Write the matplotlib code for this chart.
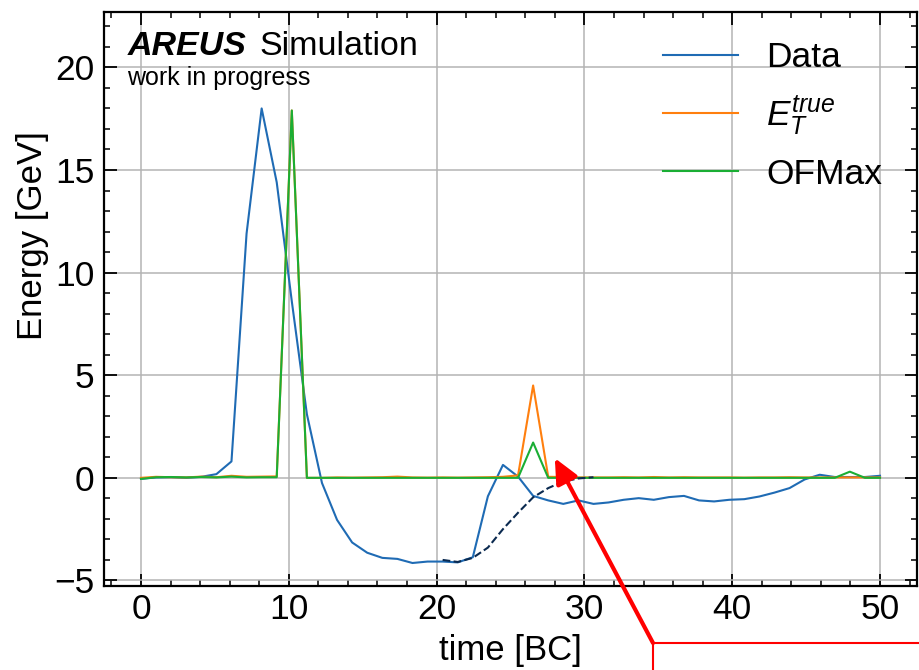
import matplotlib
matplotlib.use("Agg")
import matplotlib.pyplot as plt
from matplotlib.patches import Rectangle
import numpy as np

# time base: 50 samples spread over 0..50 BC
time = np.linspace(0, 50, 50)

data = [-0.05, 0.02, 0.03, 0.00, 0.05, 0.18, 0.80, 11.9, 18.0, 14.4,
        8.6, 3.1, -0.25, -2.05, -3.15, -3.65, -3.90, -3.95, -4.15, -4.08,
        -4.08, -4.12, -3.87, -0.90, 0.63, 0.06, -0.88, -1.10, -1.27, -1.10,
        -1.27, -1.20, -1.07, -0.99, -1.07, -0.94, -0.88, -1.10, -1.15, -1.07,
        -1.04, -0.91, -0.72, -0.50, -0.08, 0.15, 0.04, 0.04, 0.04, 0.10]

et_true = [0.00, 0.05, 0.03, 0.02, 0.06, 0.03, 0.10, 0.05, 0.06, 0.07,
           17.9, 0.00, 0.00, 0.02, 0.01, 0.02, 0.03, 0.06, 0.02, 0.01,
           0.02, 0.01, 0.02, 0.03, 0.05, 0.12, 4.50, 0.05, 0.04, 0.02,
           0.02, 0.02, 0.03, 0.02, 0.04, 0.02, 0.03, 0.02, 0.02, 0.02,
           0.01, 0.02, 0.02, 0.03, 0.02, 0.02, 0.02, 0.02, 0.02, 0.02]

ofmax = [-0.05, 0.03, 0.04, 0.02, 0.04, 0.02, 0.06, 0.02, 0.03, 0.03,
         17.9, 0.00, 0.00, 0.00, 0.00, 0.00, 0.00, 0.00, 0.00, 0.00,
         0.00, 0.00, 0.00, 0.00, 0.00, 0.00, 1.72, 0.00, 0.00, 0.00,
         0.00, 0.00, 0.00, 0.00, 0.00, 0.00, 0.00, 0.00, 0.00, 0.00,
         0.00, 0.00, 0.00, 0.00, 0.00, 0.00, 0.00, 0.30, 0.00, 0.00]

# dashed pulse shape, samples 20..30
pulse_start = 20
pulse = [-4.00, -4.10, -3.90, -3.40, -2.50, -1.70, -0.95, -0.50, -0.18, -0.03, 0.03]

arrow_tip = (28.0, 0.96)

plt.rcParams['font.family'] = ['Liberation Sans', 'DejaVu Sans']
plt.rcParams['mathtext.fontset'] = 'custom'
plt.rcParams['mathtext.rm'] = 'Liberation Sans'
plt.rcParams['mathtext.it'] = 'Liberation Sans:italic'
plt.rcParams['mathtext.bf'] = 'Liberation Sans:bold'

fig = plt.figure(figsize=(9.19, 6.70), dpi=100)
ax = fig.add_axes([0.1132, 0.1254, 0.8846, 0.8567])

ax.plot(time, data, color='#1f6bb4', lw=1.5, label='Data')
ax.plot(time, et_true, color='#ff7f0e', lw=1.5, label=r'$E_T^{true}$')
ax.plot(time, ofmax, color='#1aae34', lw=1.5, label='OFMax')
ax.plot(time[pulse_start:pulse_start + len(pulse)], pulse, color='#0b2a50',
        lw=1.5, ls='--')

ax.set_xlim(-2.5, 52.5)
ax.set_ylim(-5.27, 22.7)
ax.set_xticks([0, 10, 20, 30, 40, 50])
ax.set_xticks(np.arange(-2, 53, 2), minor=True)
ax.set_yticks([-5, 0, 5, 10, 15, 20])
ax.set_yticks(np.arange(-5, 23, 1), minor=True)
ax.grid(True, which='major', color='#b4b4b4', lw=1.1)
ax.set_axisbelow(True)

ax.tick_params(which='both', direction='in', top=True, right=True, labelsize=25.5)
ax.tick_params(which='major', length=9, width=1.3)
ax.tick_params(which='minor', length=4.5, width=1.1)
ax.tick_params(axis='x', pad=5)
ax.tick_params(axis='y', pad=7)
for s in ax.spines.values():
    s.set_linewidth(1.6)

ax.set_xlabel('time [BC]', fontsize=25, labelpad=6)
ax.set_ylabel('Energy [GeV]', fontsize=25, y=0.61, labelpad=4)

t1 = ax.text(0.0295, 0.925, 'AREUS', transform=ax.transAxes, fontsize=24.5,
             fontweight='bold', fontstyle='italic', va='baseline')
ax.annotate('Simulation', xy=(1, 0), xycoords=t1, xytext=(9, 0),
            textcoords='offset points', fontsize=24.5, va='bottom')
ax.text(0.0285, 0.873, 'work in progress', transform=ax.transAxes,
        fontsize=18, va='baseline')

ax.legend(loc='upper right', bbox_to_anchor=(0.9926, 1.0), frameon=False,
          fontsize=25.5, handlelength=2.1, handletextpad=0.8,
          labelspacing=0.55, borderaxespad=0.42)

# red callout box (cropped at the figure edge) and arrow
fig.patches.append(Rectangle((653 / 919, -0.2), 1.0, 27 / 670 + 0.2,
                             transform=fig.transFigure, fill=False,
                             edgecolor='red', lw=1.5, clip_on=False))
ax.annotate('', xy=arrow_tip, xycoords='data', xytext=(653, 27),
            textcoords='figure pixels', annotation_clip=False,
            arrowprops=dict(arrowstyle='-|>,head_length=0.75,head_width=0.35',
                            color='red', lw=3, mutation_scale=20,
                            shrinkA=0, shrinkB=0))

fig.savefig('out.png', dpi=100)
